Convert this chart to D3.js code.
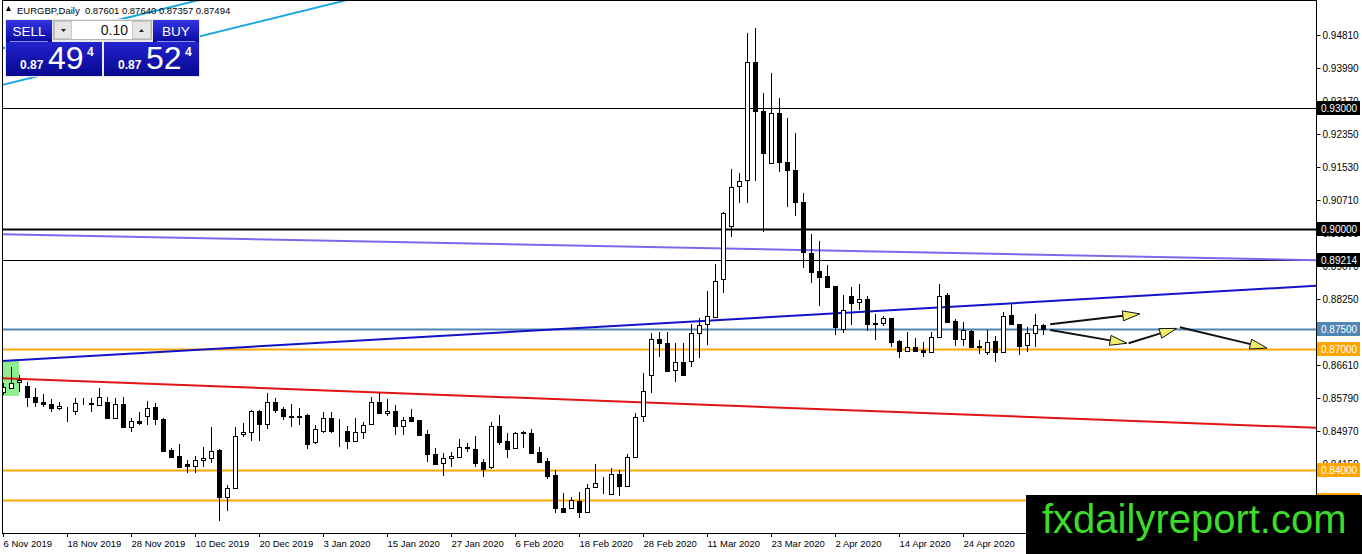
<!DOCTYPE html>
<html lang="en">
<head>
<meta charset="utf-8">
<title>EURGBP,Daily</title>
<style>
  body { margin: 0; background: #fff; }
  svg { display: block; font-family: "Liberation Sans", Arial, sans-serif; }
</style>
</head>
<body>
<svg width="1362" height="554"></svg>
<script src="https://cdnjs.cloudflare.com/ajax/libs/d3/7.8.5/d3.min.js"></script>
<script>
// --- data (bar 0 = 6 Nov 2019, one bar per trading day) ---
const opens = [
  0.8594,0.8604,0.8619,0.8609,0.8582,0.8569,0.8564,0.8554,0.8547,0.8547,
  0.8568,0.8567,0.8562,0.8569,0.8529,0.8564,0.8507,0.8522,0.8534,0.8556,
  0.8527,0.8450,0.8435,0.8415,0.8410,0.8425,0.8430,0.8450,0.8333,0.8356,
  0.8490,0.8495,0.8547,0.8515,0.8569,0.8552,0.8535,0.8534,0.8537,0.8470,
  0.8497,0.8529,0.8498,0.8497,0.8472,0.8495,0.8515,0.8569,0.8542,0.8547,
  0.8510,0.8532,0.8524,0.8490,0.8440,0.8418,0.8430,0.8432,0.8455,0.8452,
  0.8420,0.8407,0.8510,0.8472,0.8455,0.8495,0.8492,0.8445,0.8422,0.8388,
  0.8306,0.8306,0.8323,0.8296,0.8358,0.8369,0.8341,0.8390,0.8360,0.8432,
  0.8534,0.8636,0.8726,0.8716,0.8649,0.8668,0.8671,0.8741,0.8763,0.8780,
  0.8875,0.9006,0.9106,0.9121,0.9414,0.9292,0.9163,0.9287,0.9165,0.9146,
  0.9066,0.8939,0.8895,0.8882,0.8857,0.8750,0.8832,0.8818,0.8825,0.8766,
  0.8766,0.8778,0.8721,0.8696,0.8706,0.8698,0.8693,0.8731,0.8835,0.8770,
  0.8726,0.8746,0.8707,0.8693,0.8721,0.8693,0.8785,0.8763,0.8711,0.8741,
  0.87601
];
const highs = [
  0.8617,0.8656,0.8636,0.8619,0.8604,0.8589,0.8577,0.8569,0.8556,0.8579,
  0.8579,0.8579,0.8604,0.8582,0.8579,0.8582,0.8529,0.8544,0.8572,0.8567,
  0.8529,0.8455,0.8465,0.8425,0.8435,0.8457,0.8507,0.8452,0.8363,0.8507,
  0.8517,0.8549,0.8549,0.8592,0.8579,0.8556,0.8564,0.8554,0.8538,0.8512,
  0.8544,0.8544,0.8527,0.8510,0.8529,0.8519,0.8582,0.8592,0.8577,0.8562,
  0.8532,0.8552,0.8525,0.8500,0.8455,0.8443,0.8445,0.8477,0.8467,0.8485,
  0.8427,0.8519,0.8537,0.8492,0.8495,0.8497,0.8502,0.8457,0.8430,0.8400,
  0.8343,0.8333,0.8346,0.8365,0.8415,0.8383,0.8405,0.8400,0.8440,0.8542,
  0.8641,0.8741,0.8743,0.8743,0.8716,0.8716,0.8763,0.8778,0.8845,0.8912,
  0.9041,0.9148,0.9138,0.9486,0.9498,0.9337,0.9387,0.9324,0.9275,0.9237,
  0.9088,0.8987,0.8969,0.8909,0.8858,0.8835,0.8855,0.8862,0.8832,0.8788,
  0.8783,0.8779,0.8722,0.8743,0.8728,0.8718,0.8743,0.8862,0.8840,0.8775,
  0.8768,0.8747,0.8723,0.8748,0.8733,0.8793,0.8813,0.8764,0.8756,0.8788,
  0.87640
];
const lows = [
  0.8587,0.8601,0.8594,0.8556,0.8556,0.8556,0.8544,0.8549,0.8519,0.8537,
  0.8562,0.8544,0.8559,0.8528,0.8527,0.8506,0.8495,0.8512,0.8512,0.8512,
  0.8445,0.8430,0.8407,0.8393,0.8393,0.8407,0.8418,0.8273,0.8298,0.8355,
  0.8482,0.8472,0.8472,0.8502,0.8542,0.8524,0.8507,0.8512,0.8452,0.8465,
  0.8492,0.8492,0.8457,0.8452,0.8470,0.8477,0.8514,0.8539,0.8534,0.8487,
  0.8487,0.8519,0.8486,0.8420,0.8412,0.8385,0.8407,0.8431,0.8445,0.8407,
  0.8383,0.8402,0.8462,0.8430,0.8454,0.8455,0.8440,0.8419,0.8378,0.8293,
  0.8293,0.8303,0.8281,0.8293,0.8356,0.8341,0.8340,0.8336,0.8359,0.8431,
  0.8519,0.8592,0.8681,0.8644,0.8619,0.8634,0.8656,0.8678,0.8711,0.8778,
  0.8840,0.8979,0.9064,0.9064,0.9118,0.8992,0.9160,0.9141,0.9054,0.9031,
  0.8902,0.8865,0.8808,0.8854,0.8736,0.8741,0.8760,0.8798,0.8746,0.8723,
  0.8758,0.8706,0.8678,0.8693,0.8693,0.8681,0.8692,0.8728,0.8767,0.8708,
  0.8708,0.8703,0.8688,0.8686,0.8668,0.8691,0.8762,0.8686,0.8693,0.8706,
  0.87357
];
const closes = [
  0.8607,0.8617,0.8624,0.8582,0.8569,0.8564,0.8554,0.8559,0.8546,0.8567,
  0.8569,0.8564,0.8582,0.8529,0.8564,0.8507,0.8522,0.8517,0.8554,0.8527,
  0.8447,0.8432,0.8407,0.8410,0.8425,0.8430,0.8447,0.8333,0.8356,0.8485,
  0.8495,0.8547,0.8515,0.8569,0.8549,0.8534,0.8533,0.8533,0.8465,0.8502,
  0.8529,0.8497,0.8496,0.8472,0.8495,0.8512,0.8569,0.8542,0.8547,0.8510,
  0.8524,0.8522,0.8487,0.8440,0.8415,0.8430,0.8435,0.8457,0.8456,0.8418,
  0.8402,0.8510,0.8470,0.8452,0.8492,0.8492,0.8443,0.8420,0.8385,0.8306,
  0.8296,0.8326,0.8296,0.8356,0.8368,0.8367,0.8390,0.8360,0.8432,0.8532,
  0.8597,0.8726,0.8716,0.8646,0.8668,0.8636,0.8741,0.8760,0.8783,0.8870,
  0.9039,0.9103,0.9118,0.9414,0.9292,0.9188,0.9287,0.9165,0.9146,0.9066,
  0.8942,0.8892,0.8880,0.8855,0.8755,0.8798,0.8815,0.8825,0.8763,0.8764,
  0.8778,0.8718,0.8696,0.8706,0.8696,0.8693,0.8731,0.8832,0.8768,0.8726,
  0.8748,0.8706,0.8705,0.8718,0.8693,0.8783,0.8763,0.8708,0.8741,0.8760,
  0.87494
];

// date labels, one every 8 bars
const dateLabels = ["6 Nov 2019","18 Nov 2019","28 Nov 2019","10 Dec 2019","20 Dec 2019",
  "3 Jan 2020","15 Jan 2020","27 Jan 2020","6 Feb 2020","18 Feb 2020","28 Feb 2020",
  "11 Mar 2020","23 Mar 2020","2 Apr 2020","14 Apr 2020","24 Apr 2020"];
const labelEvery = 8;

const priceTicks = [0.94810,0.93990,0.93170,0.92350,0.91530,0.90710,0.89890,0.89070,
  0.88250,0.87430,0.86610,0.85790,0.84970,0.84150,0.83330];

// horizontal levels drawn on the chart
const levelPrices = [0.93, 0.90, 0.89214, 0.875, 0.87, 0.84, 0.8325];
const levelKinds  = ["black", "blackBold", "black", "steel", "orange", "orange", "orange"];

// trend lines as [bar, price] anchor pairs
const cyanLines   = [[[-0.125, 0.93568], [41.5, 0.95605]], [[0.125, 0.9449], [23, 0.95605]]];
const blueLine    = [[0, 0.8671], [160, 0.8853]];
const redLine     = [[0, 0.8628], [160, 0.8508]];
const purpleLine  = [[0, 0.8986], [164.125, 0.89214]];
const greenBox    = [[-0.125, 0.8672], [2, 0.8584]];

// arrow objects drawn after the last bar
const arrows = [
  [[130.9, 0.8762], [142.1, 0.8788]],
  [[130.9, 0.8748], [140.5, 0.8715]],
  [[140.7, 0.8715], [146.7, 0.8752]],
  [[147.1, 0.8755], [158.0, 0.8703]]
];

const header = "EURGBP,Daily  0.87601 0.87640 0.87357 0.87494";

// --- drawing ---
const svg = d3.select("svg");
const W = 1362, plotRight = 1316, plotBottom = 532;

const x = d3.scaleLinear().domain([0, 164.125]).range([3, plotRight]);
const y = d3.scaleLinear().domain([0.8246, 0.9568]).range([plotBottom, 0]);

const defs = svg.append("defs");
defs.append("clipPath").attr("id", "plot")
  .append("rect").attr("x", 2).attr("y", 1).attr("width", plotRight - 2).attr("height", plotBottom);

const g = svg.append("g").attr("clip-path", "url(#plot)");

g.append("rect")
  .attr("x", x(greenBox[0][0])).attr("y", y(greenBox[0][1]))
  .attr("width", x(greenBox[1][0]) - x(greenBox[0][0]))
  .attr("height", y(greenBox[1][1]) - y(greenBox[0][1]))
  .attr("fill", "#90ee90");

const levelStyle = {
  black:     { stroke: "#000", w: 1, box: "#000" },
  blackBold: { stroke: "#000", w: 2, box: "#000" },
  steel:     { stroke: "#4f86b4", w: 2, box: "#4f86b4" },
  orange:    { stroke: "#ffa500", w: 2, box: "#ffa500" }
};

g.selectAll("line.level").data(levelPrices).enter()
  .append("line").attr("class", "level")
  .attr("x1", 2).attr("x2", plotRight)
  .attr("y1", d => Math.round(y(d)) + 0.5).attr("y2", d => Math.round(y(d)) + 0.5)
  .attr("stroke", (d, i) => levelStyle[levelKinds[i]].stroke)
  .attr("stroke-width", (d, i) => levelStyle[levelKinds[i]].w);

function extend(seg, b0, b1) {
  const [[xa, pa], [xb, pb]] = seg;
  const k = (pb - pa) / (xb - xa);
  return [[b0, pa + k * (b0 - xa)], [b1, pa + k * (b1 - xa)]];
}
const lineGen = d3.line().x(d => x(d[0])).y(d => y(d[1]));

function trend(seg, color, b0, b1) {
  g.append("path").attr("d", lineGen(extend(seg, b0, b1)))
    .attr("fill", "none").attr("stroke", color).attr("stroke-width", 2);
}
trend(purpleLine, "#7b68ee", -1, 164.125);
trend(redLine, "#e01414", -1, 170);
trend(blueLine, "#1212c8", -1, 170);
cyanLines.forEach(s => trend(s, "#1ea6e2", -1, 120));

// candles
const bars = d3.range(opens.length);
const candle = g.selectAll("g.candle").data(bars).enter()
  .append("g").attr("class", "candle")
  .attr("shape-rendering", "crispEdges");

candle.append("line")
  .attr("x1", i => Math.round(x(i)) + 0.5).attr("x2", i => Math.round(x(i)) + 0.5)
  .attr("y1", i => y(highs[i])).attr("y2", i => y(lows[i]))
  .attr("stroke", "#000");

candle.append("rect")
  .attr("x", i => Math.round(x(i)) - 1.5)
  .attr("width", 4)
  .attr("y", i => Math.round(y(Math.max(opens[i], closes[i]))) + 0.5)
  .attr("height", i => Math.max(0, Math.round(y(Math.min(opens[i], closes[i]))) - Math.round(y(Math.max(opens[i], closes[i])))))
  .attr("fill", i => closes[i] >= opens[i] ? "#fff" : "#000")
  .attr("stroke", "#000");

// arrows
arrows.forEach(([a, b]) => {
  const x1 = x(a[0]), y1 = y(a[1]), x2 = x(b[0]), y2 = y(b[1]);
  const ang = Math.atan2(y2 - y1, x2 - x1);
  const L = 17, H = 5;
  const bx = x2 - L * Math.cos(ang), by = y2 - L * Math.sin(ang);
  g.append("line").attr("x1", x1).attr("y1", y1).attr("x2", bx).attr("y2", by)
    .attr("stroke", "#111").attr("stroke-width", 2);
  g.append("path")
    .attr("d", `M${x2},${y2}L${bx - H * Math.sin(ang)},${by + H * Math.cos(ang)}L${bx + H * Math.sin(ang)},${by - H * Math.cos(ang)}Z`)
    .attr("fill", "#f2ee6a").attr("stroke", "#111").attr("stroke-width", 1);
});

// frame
svg.append("rect").attr("x", 2.5).attr("y", 0.5)
  .attr("width", plotRight - 2.5).attr("height", plotBottom + 0.5)
  .attr("fill", "none").attr("stroke", "#000").attr("shape-rendering", "crispEdges");

// right price axis
const yAxis = svg.append("g").attr("transform", `translate(${plotRight + 0.5},0)`)
  .call(d3.axisRight(y).tickValues(priceTicks).tickSize(4).tickSizeOuter(0)
    .tickPadding(2).tickFormat(d3.format(".5f")));
yAxis.select(".domain").remove();
yAxis.selectAll("text").attr("font-size", 10).attr("fill", "#000")
  .attr("font-family", "'Liberation Sans', Arial, sans-serif");
yAxis.selectAll("line").attr("stroke", "#000");

// level price boxes
const boxes = svg.append("g");
levelPrices.forEach((p, i) => {
  const st = levelStyle[levelKinds[i]];
  const cy = Math.round(y(p));
  boxes.append("rect").attr("x", plotRight + 1).attr("y", cy - 7).attr("width", 43).attr("height", 14)
    .attr("fill", st.box);
  boxes.append("text").attr("x", plotRight + 5).attr("y", cy + 4)
    .attr("font-size", 10).attr("fill", "#fff").text(d3.format(".5f")(p));
});

// bottom date axis
const xAxis = svg.append("g").attr("transform", `translate(0,${plotBottom + 1})`)
  .call(d3.axisBottom(x).tickValues(dateLabels.map((d, i) => i * labelEvery))
    .tickSize(4).tickSizeOuter(0).tickFormat(i => dateLabels[i / labelEvery]));
xAxis.select(".domain").remove();
xAxis.selectAll("line").attr("stroke", "#000");
xAxis.selectAll("text").attr("text-anchor", "start").attr("dy", null).attr("y", 14)
  .attr("font-size", 9.5).attr("fill", "#000")
  .attr("font-family", "'Liberation Sans', Arial, sans-serif");

// header line
svg.append("path").attr("d", "M6,11L8.5,6L11,11Z").attr("fill", "#000");
svg.append("text").attr("x", 17).attr("y", 14).attr("font-size", 9.5).attr("fill", "#000")
  .attr("xml:space", "preserve").style("white-space", "pre").text(header);

// one-click trading panel
const grad = defs.append("linearGradient").attr("id", "btn").attr("x1", 0).attr("y1", 0).attr("x2", 0).attr("y2", 1);
grad.append("stop").attr("offset", 0).attr("stop-color", "#3535e4");
grad.append("stop").attr("offset", 1).attr("stop-color", "#0a0aa0");
const grad2 = defs.append("linearGradient").attr("id", "box").attr("x1", 0).attr("y1", 0).attr("x2", 0).attr("y2", 1);
grad2.append("stop").attr("offset", 0).attr("stop-color", "#2323cf");
grad2.append("stop").attr("offset", 1).attr("stop-color", "#07078f");

const panel = svg.append("g").attr("shape-rendering", "crispEdges");
panel.append("rect").attr("x", 5).attr("y", 19).attr("width", 195).attr("height", 58).attr("fill", "#e9e9e9");
panel.append("rect").attr("x", 6).attr("y", 20).attr("width", 46).attr("height", 22).attr("fill", "url(#btn)");
panel.append("rect").attr("x", 153).attr("y", 20).attr("width", 46).attr("height", 22).attr("fill", "url(#btn)");
panel.append("rect").attr("x", 6).attr("y", 42).attr("width", 96).attr("height", 34).attr("fill", "url(#box)");
panel.append("rect").attr("x", 104).attr("y", 42).attr("width", 95).attr("height", 34).attr("fill", "url(#box)");
panel.append("line").attr("x1", 10).attr("x2", 48).attr("y1", 41.5).attr("y2", 41.5).attr("stroke", "#8f8ff0");
panel.append("line").attr("x1", 157).attr("x2", 195).attr("y1", 41.5).attr("y2", 41.5).attr("stroke", "#8f8ff0");
// lot box
panel.append("rect").attr("x", 53.5).attr("y", 20.5).attr("width", 98).attr("height", 19).attr("fill", "#fff").attr("stroke", "#b5b5b5");
panel.append("rect").attr("x", 54.5).attr("y", 21.5).attr("width", 17).attr("height", 17).attr("fill", "#e6e6e6").attr("stroke", "#c8c8c8");
panel.append("rect").attr("x", 132.5).attr("y", 21.5).attr("width", 18).attr("height", 17).attr("fill", "#e6e6e6").attr("stroke", "#c8c8c8");
panel.append("path").attr("d", "M61,29L66,29L63.5,32Z").attr("fill", "#222").attr("shape-rendering", "auto");
panel.append("path").attr("d", "M139,32L144,32L141.5,29Z").attr("fill", "#222").attr("shape-rendering", "auto");
panel.append("text").attr("x", 128).attr("y", 35).attr("text-anchor", "end").attr("font-size", 14).attr("fill", "#111").text("0.10");
panel.append("text").attr("x", 29).attr("y", 36).attr("text-anchor", "middle").attr("font-size", 13.5).attr("fill", "#fff").text("SELL");
panel.append("text").attr("x", 176).attr("y", 36).attr("text-anchor", "middle").attr("font-size", 13.5).attr("fill", "#fff").text("BUY");

function quote(x0, big, small) {
  panel.append("text").attr("x", x0).attr("y", 69).attr("font-size", 12).attr("font-weight", "bold").attr("fill", "#fff").text("0.87");
  panel.append("text").attr("x", x0 + 28).attr("y", 69).attr("font-size", 32).attr("fill", "#fff").text(big);
  panel.append("text").attr("x", x0 + 67).attr("y", 56).attr("font-size", 12).attr("font-weight", "bold").attr("fill", "#fff").text(small);
}
quote(20, "49", "4");
quote(118, "52", "4");

// watermark
svg.append("rect").attr("x", 1026).attr("y", 495).attr("width", W - 1026).attr("height", 59).attr("fill", "#000");
svg.append("text").attr("x", 1042).attr("y", 533).attr("font-size", 40).attr("fill", "#3ddc2a").text("fxdailyreport.com");
</script>
</body>
</html>
